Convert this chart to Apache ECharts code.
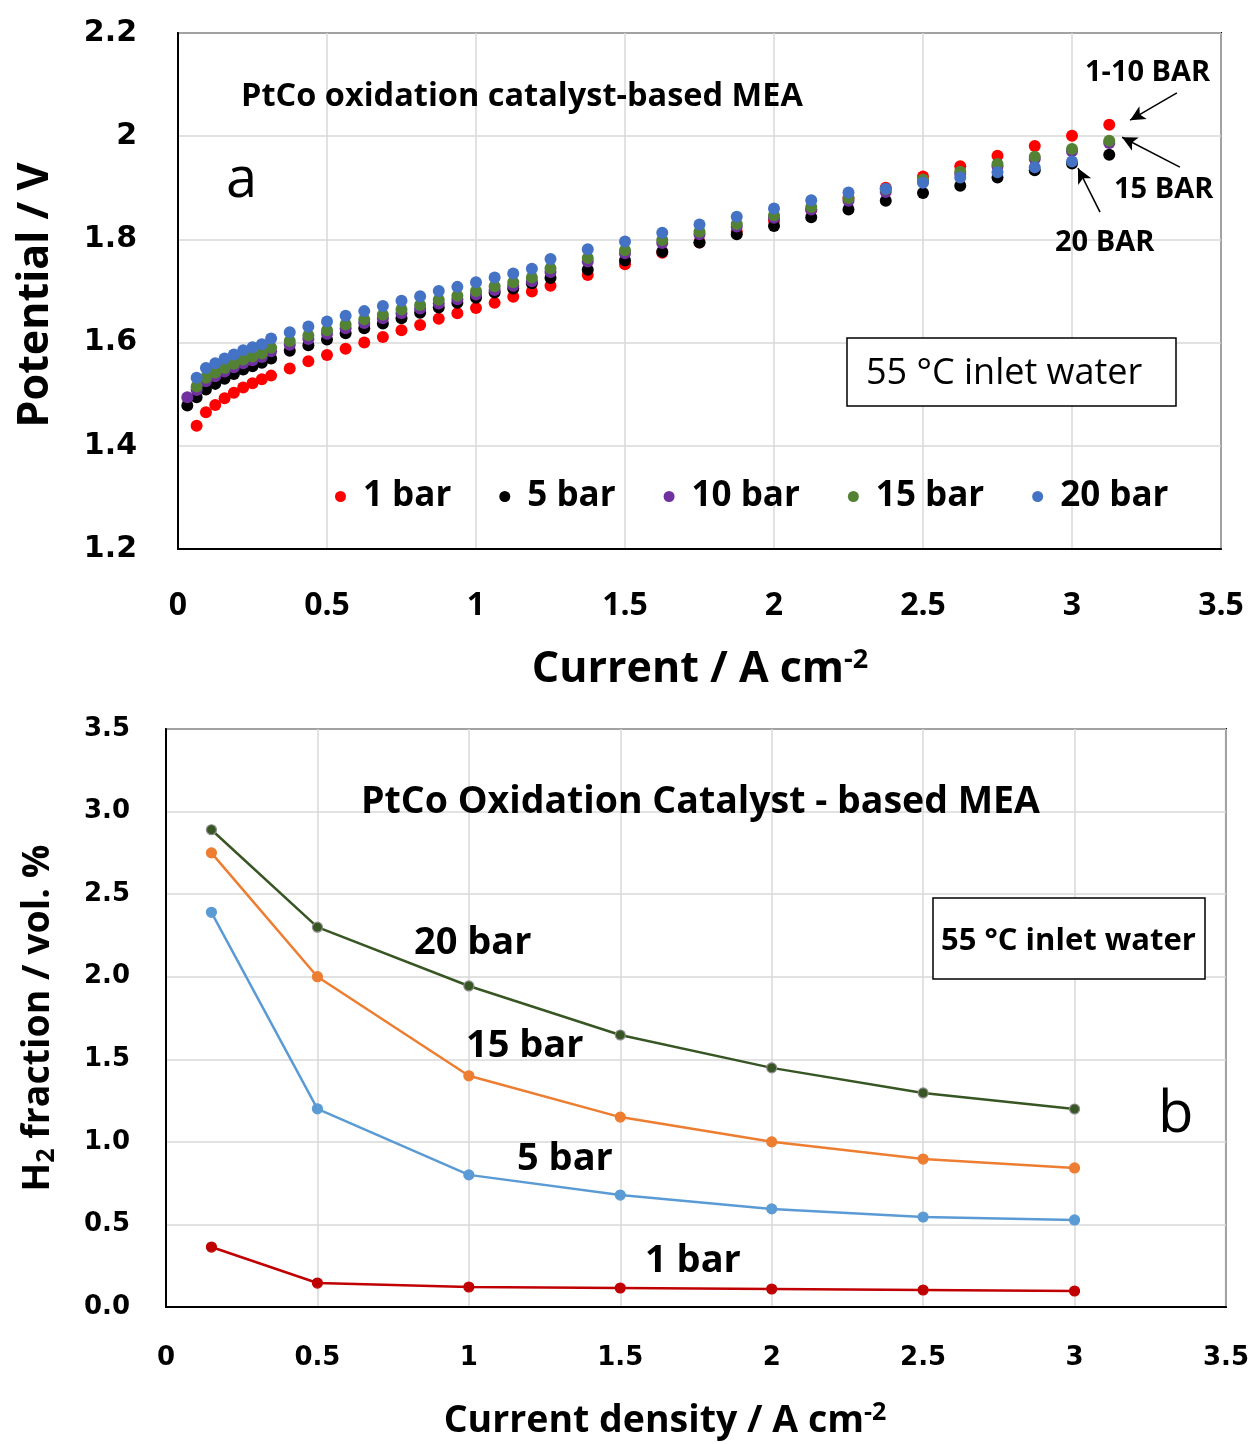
<!DOCTYPE html>
<html>
<head>
<meta charset="utf-8">
<script src="https://cdn.jsdelivr.net/npm/echarts@6/dist/echarts.min.js"></script>
<style>
  html, body { margin: 0; padding: 0; background: #fff; }
  #chart { width: 1252px; height: 1444px; }
</style>
</head>
<body>
<div id="chart"></div>
<script>
// ---- Panel a: polarisation curves (current density grid, A cm-2) ----
const currentA = [0.03125, 0.0625, 0.09375, 0.125, 0.15625, 0.1875, 0.21875, 0.25, 0.28125, 0.3125,
  0.375, 0.4375, 0.5, 0.5625, 0.625, 0.6875, 0.75, 0.8125, 0.875, 0.9375, 1.0, 1.0625, 1.125, 1.1875, 1.25,
  1.375, 1.5, 1.625, 1.75, 1.875, 2.0, 2.125, 2.25, 2.375, 2.5, 2.625, 2.75, 2.875, 3.0, 3.125];

// cell potential (V) for each pressure
const v1bar = [null, 1.439, 1.465, 1.479, 1.492, 1.503, 1.513, 1.521, 1.529, 1.536,
  1.550, 1.564, 1.576, 1.588, 1.600, 1.611, 1.624, 1.634, 1.646, 1.657, 1.667, 1.677, 1.689, 1.699, 1.710,
  1.731, 1.752, 1.774, 1.794, 1.815, 1.836, 1.857, 1.880, 1.900, 1.922, 1.942, 1.962, 1.981, 2.001, 2.022];
const v5bar = [1.478, 1.494, 1.509, 1.520, 1.530, 1.539, 1.548, 1.554, 1.561, 1.569,
  1.584, 1.595, 1.606, 1.618, 1.628, 1.637, 1.647, 1.658, 1.668, 1.677, 1.687, 1.697, 1.705, 1.715, 1.725,
  1.741, 1.759, 1.776, 1.794, 1.810, 1.826, 1.843, 1.858, 1.875, 1.890, 1.904, 1.920, 1.934, 1.947, 1.964];
const v10bar = [1.494, 1.508, 1.525, 1.535, 1.544, 1.552, 1.560, 1.566, 1.572, 1.583,
  1.596, 1.607, 1.617, 1.628, 1.638, 1.647, 1.657, 1.666, 1.676, 1.684, 1.693, 1.702, 1.710, 1.719, 1.737,
  1.757, 1.773, 1.793, 1.810, 1.825, 1.842, 1.858, 1.875, 1.892, 1.912, 1.927, 1.942, 1.956, 1.971, 1.987];
const v15bar = [null, 1.515, 1.532, 1.542, 1.551, 1.559, 1.567, 1.573, 1.579, 1.590,
  1.603, 1.614, 1.624, 1.635, 1.645, 1.654, 1.664, 1.673, 1.683, 1.691, 1.700, 1.709, 1.717, 1.726, 1.744,
  1.764, 1.779, 1.799, 1.815, 1.830, 1.847, 1.863, 1.880, 1.897, 1.916, 1.931, 1.946, 1.960, 1.975, 1.991];
const v20bar = [null, 1.532, 1.551, 1.560, 1.569, 1.577, 1.585, 1.591, 1.597, 1.608,
  1.620, 1.631, 1.641, 1.652, 1.661, 1.671, 1.681, 1.690, 1.700, 1.708, 1.717, 1.726, 1.734, 1.743, 1.762,
  1.781, 1.796, 1.813, 1.829, 1.844, 1.860, 1.876, 1.891, 1.898, 1.910, 1.920, 1.930, 1.940, 1.951, null];

const seriesNamesA = ['1 bar', '5 bar', '10 bar', '15 bar', '20 bar'];
const seriesColorsA = ['#FF0000', '#000000', '#7030A0', '#548235', '#4472C4'];

// ---- Panel b: H2 in O2 (vol. %) ----
const currentB = [0.15, 0.5, 1, 1.5, 2, 2.5, 3];
const h2_1bar = [0.363, 0.145, 0.121, 0.115, 0.109, 0.103, 0.097];
const h2_5bar = [2.39, 1.20, 0.80, 0.678, 0.594, 0.545, 0.527];
const h2_15bar = [2.75, 2.00, 1.40, 1.15, 1.00, 0.896, 0.842];
const h2_20bar = [2.89, 2.30, 1.944, 1.647, 1.448, 1.296, 1.199];

const CAL = '"Open Sans", Lato, sans-serif';
const VER = '"DejaVu Sans", Verdana, sans-serif';

function pairs(xs, ys) {
  const out = [];
  xs.forEach((x, i) => { if (ys[i] !== null) out.push([x, ys[i]]); });
  return out;
}

const chart = echarts.init(document.getElementById('chart'), null, { renderer: 'canvas' });

const gridLine = { show: true, lineStyle: { color: '#d9d9d9', width: 1.5 } };

const vSeries = [v1bar, v5bar, v10bar, v15bar, v20bar];
const scatterA = vSeries.map((ys, i) => ({
  name: seriesNamesA[i],
  type: 'scatter',
  xAxisIndex: 0, yAxisIndex: 0,
  symbol: 'circle',
  symbolSize: 12,
  itemStyle: { color: seriesColorsA[i], opacity: 1 },
  data: pairs(currentA, ys),
  z: 2 + i
}));

// arrows pointing at the high-current end points
scatterA[4].markLine = {
  silent: true,
  symbol: ['none', 'arrow'],
  symbolSize: [11, 15],
  label: { show: false },
  lineStyle: { color: '#000', width: 1.5, type: 'solid' },
  data: [
    [{ coord: [3.352, 2.084] }, { coord: [3.195, 2.031] }],
    [{ coord: [3.362, 1.940] }, { coord: [3.168, 1.998] }],
    [{ coord: [3.094, 1.853] }, { coord: [3.020, 1.938] }]
  ]
};

const bDefs = [
  { name: '1 bar H2', ys: h2_1bar, color: '#C00000', border: '#C00000' },
  { name: '5 bar H2', ys: h2_5bar, color: '#5B9BD5', border: '#5B9BD5' },
  { name: '15 bar H2', ys: h2_15bar, color: '#ED7D31', border: '#ED7D31' },
  { name: '20 bar H2', ys: h2_20bar, color: '#375623', border: '#8c8c8c' }
];
const linesB = bDefs.map(d => ({
  name: d.name,
  type: 'line',
  xAxisIndex: 1, yAxisIndex: 1,
  symbol: 'circle',
  symbolSize: 10,
  showSymbol: true,
  lineStyle: { color: d.color, width: 2.5 },
  itemStyle: { color: d.color, borderColor: d.border, borderWidth: 1.2 },
  data: pairs(currentB, d.ys)
}));

function txt(text, x, y, size, weight) {
  return {
    type: 'text', x: x, y: y, z: 100,
    style: {
      text: text, fill: '#000', font: weight + ' ' + size + 'px ' + CAL,
      textAlign: 'left', textVerticalAlign: 'middle'
    }
  };
}

const option = {
  animation: false,
  backgroundColor: '#fff',
  grid: [
    { left: 178, top: 33, width: 1043, height: 516, show: true, borderColor: '#000', borderWidth: 2, backgroundColor: 'transparent' },
    { left: 166, top: 729, width: 1060, height: 578, show: true, borderColor: '#000', borderWidth: 2, backgroundColor: 'transparent' }
  ],
  xAxis: [
    {
      gridIndex: 0, type: 'value', min: 0, max: 3.5, interval: 0.5,
      axisLine: { show: true, onZero: false, lineStyle: { color: '#000', width: 2 } },
      axisTick: { show: false },
      splitLine: gridLine,
      axisLabel: { margin: 41, color: '#000', fontFamily: CAL, fontWeight: 'bold', fontSize: 32,
        formatter: v => String(+v.toFixed(1)) }
    },
    {
      gridIndex: 1, type: 'value', min: 0, max: 3.5, interval: 0.5,
      axisLine: { show: true, onZero: false, lineStyle: { color: '#000', width: 2 } },
      axisTick: { show: false },
      splitLine: gridLine,
      axisLabel: { margin: 38, color: '#000', fontFamily: VER, fontWeight: 'bold', fontSize: 26,
        formatter: v => String(+v.toFixed(1)) }
    }
  ],
  yAxis: [
    {
      gridIndex: 0, type: 'value', min: 1.2, max: 2.2, interval: 0.2,
      axisLine: { show: true, onZero: false, lineStyle: { color: '#000', width: 2 } },
      axisTick: { show: false },
      splitLine: gridLine,
      axisLabel: { margin: 41, color: '#000', fontFamily: VER, fontWeight: 'bold', fontSize: 30,
        formatter: v => String(+v.toFixed(1)) }
    },
    {
      gridIndex: 1, type: 'value', min: 0, max: 3.5, interval: 0.5,
      axisLine: { show: true, onZero: false, lineStyle: { color: '#000', width: 2 } },
      axisTick: { show: false },
      splitLine: gridLine,
      axisLabel: { margin: 36, color: '#000', fontFamily: VER, fontWeight: 'bold', fontSize: 26,
        formatter: v => v.toFixed(1) }
    }
  ],
  legend: {
    data: seriesNamesA,
    left: 330, top: 474,
    orient: 'horizontal',
    icon: 'circle',
    itemWidth: 11, itemHeight: 11,
    itemGap: 48,
    selectedMode: false,
    textStyle: { color: '#000', fontFamily: CAL, fontWeight: 'bold', fontSize: 35, padding: [0, 0, 0, 12] }
  },
  series: scatterA.concat(linesB),
  graphic: [
    // panel a texts
    txt('PtCo oxidation catalyst-based MEA', 241, 97, 32.5, 'bold'),
    txt('a', 226, 181, 56, 'normal'),
    { type: 'rect', z: 100, shape: { x: 847, y: 338, width: 329, height: 68 },
      style: { fill: '#fff', stroke: '#000', lineWidth: 1.5 } },
    txt('55 °C inlet water', 866, 374, 36, 'normal'),
    txt('1-10 BAR', 1085, 73, 29, 'bold'),
    txt('15 BAR', 1114, 190, 29, 'bold'),
    txt('20 BAR', 1055, 243, 29, 'bold'),
    // panel a axis titles
    { type: 'text', z: 100, x: 36, y: 295, rotation: Math.PI / 2,
      style: { text: 'Potential / V', fill: '#000', font: 'bold 43px ' + CAL,
        textAlign: 'center', textVerticalAlign: 'middle' } },
    { type: 'text', z: 100, x: 700, y: 670,
      style: { text: 'Current / A cm{sup|-2}', fill: '#000', font: 'bold 43px ' + CAL,
        textAlign: 'center', textVerticalAlign: 'middle',
        rich: { sup: { font: 'bold 27px ' + CAL, fill: '#000', verticalAlign: 'top', padding: [0, 0, 20, 0] } } } },
    // panel b texts
    txt('PtCo Oxidation Catalyst - based MEA', 361, 802, 37.5, 'bold'),
    txt('20 bar', 414, 943, 38, 'bold'),
    txt('15 bar', 466, 1046, 38, 'bold'),
    txt('5 bar', 517, 1159, 38, 'bold'),
    txt('1 bar', 645, 1261, 38, 'bold'),
    { type: 'rect', z: 100, shape: { x: 933, y: 898, width: 272, height: 81 },
      style: { fill: '#fff', stroke: '#000', lineWidth: 1.5 } },
    txt('55 °C inlet water', 941, 941, 31, 'bold'),
    txt('b', 1158, 1115, 58, 'normal'),
    { type: 'text', z: 100, x: 38, y: 1018, rotation: Math.PI / 2,
      style: { text: 'H{sub|2} fraction / vol. %', fill: '#000', font: 'bold 37.5px ' + CAL,
        textAlign: 'center', textVerticalAlign: 'middle',
        rich: { sub: { font: 'bold 25px ' + CAL, fill: '#000', padding: [17, 0, 0, 0] } } } },
    { type: 'text', z: 100, x: 665, y: 1421,
      style: { text: 'Current density / A cm{sup|-2}', fill: '#000', font: 'bold 37.5px ' + CAL,
        textAlign: 'center', textVerticalAlign: 'middle',
        rich: { sup: { font: 'bold 25px ' + CAL, fill: '#000', padding: [0, 0, 17, 0] } } } }
  ]
};

chart.setOption(option);
</script>
</body>
</html>
